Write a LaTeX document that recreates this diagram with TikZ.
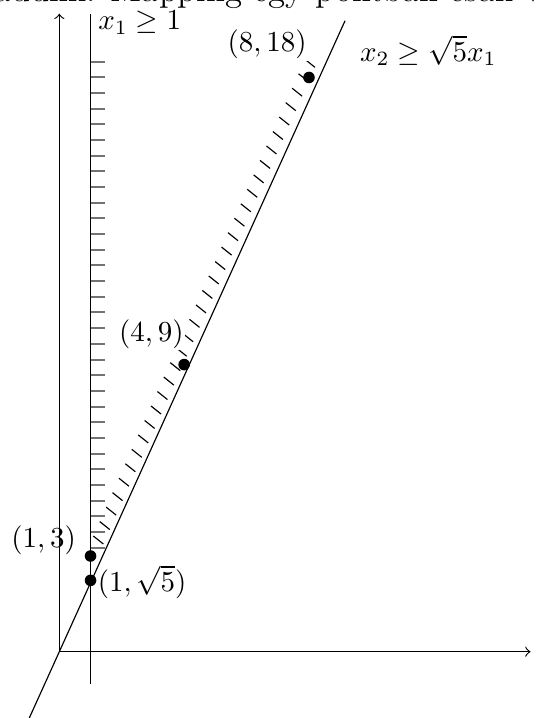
\documentclass[tikz,border=0pt]{standalone}
\begin{document}
\begin{tikzpicture}[x=10.76pt,y=11.0pt,
  axis/.style={->,line width=0.4pt},
  hatchgray/.style={draw=black!55,line width=0.7pt},
  hatchdiag/.style={line width=0.4pt},
  dot/.style={circle,fill=black,inner sep=0pt,minimum size=4pt},
  lbl/.style={inner sep=0.5pt,anchor=base west},
  lblw/.style={lbl,fill=white}]
\useasboundingbox (-1.901,-2.078) rectangle (15.311,20.429);
\clip (-1.901,-2.078) rectangle (15.311,20.429);
\node[anchor=base west,inner sep=0pt,font=\fontsize{12}{14}\selectfont] (toptext) at (-2.1,20.39) {adunk. Mapping egy pontban csak v};
\coordinate (O) at (0,0);
\coordinate (xend) at (15.1,0);
\coordinate (yend) at (0,20);
\draw[axis] (O) -- (xend);
\draw[axis] (O) -- (yend);
\coordinate (vb) at (1,-1);
\coordinate (vt) at (1,20);
\draw (vb) -- (vt);
\coordinate (lb) at (-1,-2.16);
\coordinate (lt) at (9.157,19.78);
\draw (lb) -- (lt);
\foreach \k in {0,...,31} \draw[hatchgray] (1,3.26+0.4916*\k) -- ++(0.449,0);
\foreach \k in {0,...,33} \draw[hatchdiag] (1.410+0.2055*\k-0.3205, 3.376+0.4528*\k+0.2508) -- ++(0.3205,-0.2508);
\node[dot] (p1) at (1,2.236) {};
\node[dot] (p2) at (1,3) {};
\node[dot] (p3) at (4,9) {};
\node[dot] (p4) at (8,18) {};
\node[lbl,inner sep=0pt] (l1) at (1.23,19.49) {$x_1\geq 1$};
\node[lblw] (l4) at (5.33,18.80) {$(8,18)$};
\node[lbl] (l5) at (9.574,18.50) {$x_2\geq\sqrt{5}x_1$};
\node[lblw] (l3) at (1.85,9.724) {$(4,9)$};
\node[lbl] (l2) at (-1.6,3.251) {$(1,3)$};
\node[lbl] (l0) at (1.17,1.887) {$(1,\sqrt{5})$};
\end{tikzpicture}
\end{document}
